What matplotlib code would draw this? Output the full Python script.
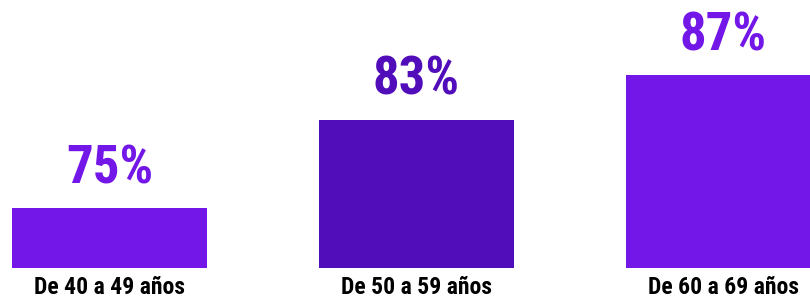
import matplotlib.pyplot as plt

categorias = ["De 40 a 49 años", "De 50 a 59 años", "De 60 a 69 años"]
valores = [75, 83, 87]
colores = ["#7316E8", "#520DBB", "#7316E8"]

fig = plt.figure(figsize=(8.1, 3.03), dpi=100)
ax = fig.add_axes([0, 35 / 303, 1, 268 / 303])

x = list(range(len(valores)))
bars = ax.bar(x, valores, width=0.635, color=colores)

ax.set_xlim(-109.5 / 307, (810 - 109.5) / 307)
ax.set_ylim(69.6, 93.8)
ax.axis("off")

fuente = ["Roboto Condensed", "DejaVu Sans"]

for xi, v, c in zip(x, valores, colores):
    ax.annotate(f"{v}%", (xi, v), xytext=(0, 18), textcoords="offset points",
                ha="center", va="baseline", fontsize=38, fontweight="heavy",
                fontstretch="condensed", color=c, family=fuente)

for xi, cat in zip(x, categorias):
    ax.annotate(cat, (xi, 69.6), xytext=(0, -6), textcoords="offset points",
                ha="center", va="top", fontsize=17, fontweight="bold",
                fontstretch="condensed", color="black", family=fuente,
                annotation_clip=False)

fig.savefig("out.png", dpi=100)
